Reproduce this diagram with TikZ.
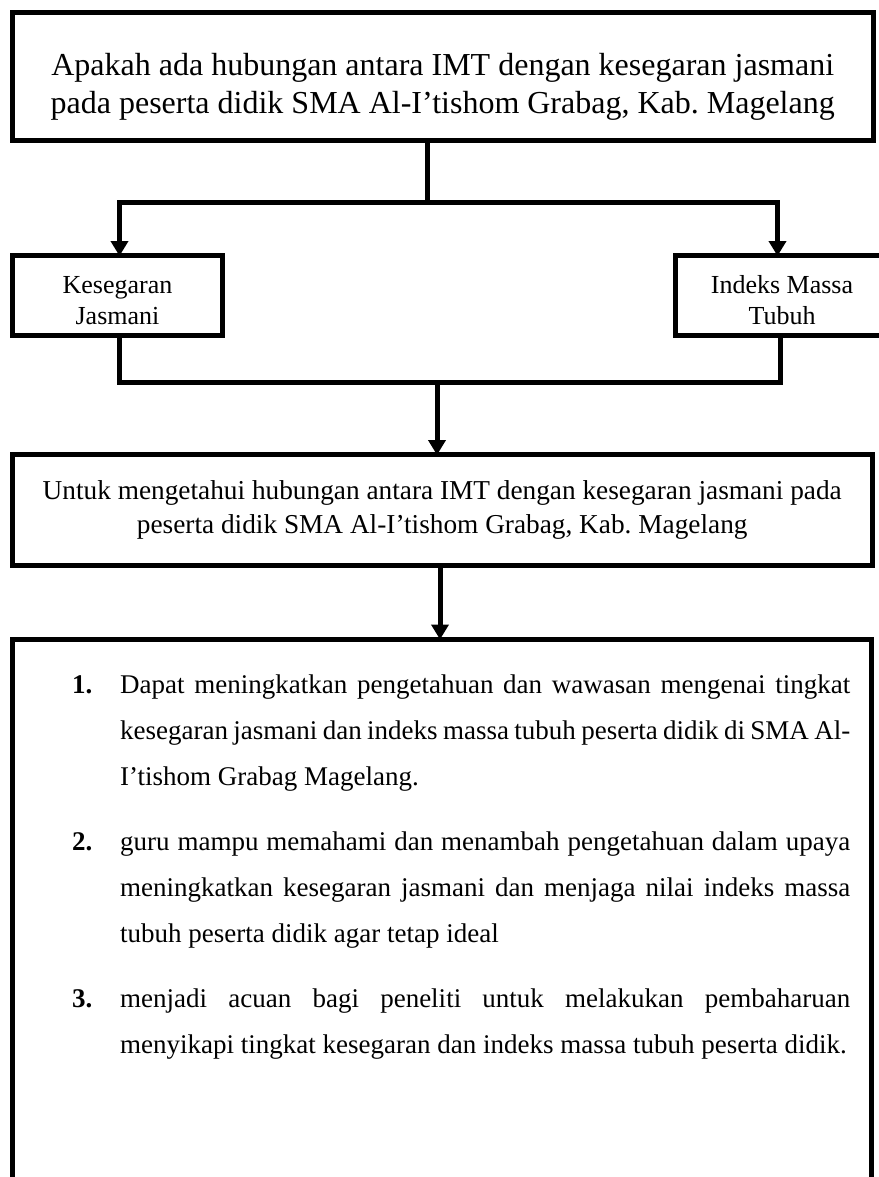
\documentclass[tikz,border=0pt]{standalone}
\usepackage{fontspec}
\setmainfont{Liberation Serif}
\usepackage{tikz}
\usetikzlibrary{arrows.meta}
\pgfdeclarelayer{edgelayer}
\pgfdeclarelayer{nodelayer}
\pgfsetlayers{edgelayer,nodelayer,main}
\frenchspacing
\tikzstyle{none} = [inner sep=0pt, minimum size=0pt]
\tikzstyle{box} = [draw, line width=5pt, rectangle, inner sep=0pt, align=center]
\tikzstyle{flow} = [line width=5pt, line join=miter]
\tikzstyle{flow arrow} = [flow, -{Triangle[length=15pt, width=17pt]}]
\tikzstyle{flow arrows} = [flow, {Triangle[length=15pt, width=17pt]}-{Triangle[length=15pt, width=17pt]}]

\begin{document}
\begin{tikzpicture}[x=1pt, y=-1pt]
	\useasboundingbox (0, 0) rectangle (878, 1177);
	\begin{pgfonlayer}{nodelayer}
		\node [style=box, minimum width=860.5pt, minimum height=128pt, font=\fontsize{32}{38}\selectfont] (0) at (442.75, 76.5) {\rule{0pt}{43pt}Apakah ada hubungan antara IMT dengan kesegaran jasmani\\pada peserta didik SMA Al-I’tishom Grabag, Kab. Magelang};
		\node [style=box, minimum width=210pt, minimum height=80pt, font=\fontsize{26}{31}\selectfont] (1) at (117.5, 295.5) {\rule{0pt}{27pt}Kesegaran\\Jasmani};
		\node [style=box, minimum width=213pt, minimum height=80pt, font=\fontsize{26}{31}\selectfont] (2) at (782, 295.5) {\rule{0pt}{27pt}Indeks Massa\\Tubuh};
		\node [style=box, minimum width=859.5pt, minimum height=111pt, font=\fontsize{27.3}{34}\selectfont] (3) at (442.25, 510) {Untuk mengetahui hubungan antara IMT dengan kesegaran jasmani pada\\peserta didik SMA Al-I’tishom Grabag, Kab. Magelang};
		\node [style=box, minimum width=858.5pt, minimum height=610.5pt] (4) at (441.75, 944.75) {};
		\node [style=none, anchor=base west, text width=778pt, align=justify, font=\fontsize{27}{46}\selectfont] (5) at (72, 693) {\setlength{\parskip}{19pt}%
\hangindent=48pt\hangafter=1\makebox[48pt][l]{\textbf{1.}}Dapat meningkatkan pengetahuan dan wawasan mengenai tingkat\linebreak kesegaran jasmani dan indeks massa tubuh peserta didik di SMA Al-\linebreak I’tishom Grabag Magelang.\par
\hangindent=48pt\hangafter=1\makebox[48pt][l]{\textbf{2.}}guru mampu memahami dan menambah pengetahuan dalam upaya\linebreak meningkatkan kesegaran jasmani dan menjaga nilai indeks massa\linebreak tubuh peserta didik agar tetap ideal\par
\hangindent=48pt\hangafter=1\makebox[48pt][l]{\textbf{3.}}menjadi acuan bagi peneliti untuk melakukan pembaharuan\linebreak menyikapi tingkat kesegaran dan indeks massa tubuh peserta didik.\par};
		\node [style=none] (10) at (427, 140.5) {};
		\node [style=none] (11) at (427, 202) {};
		\node [style=none] (12) at (119.5, 202) {};
		\node [style=none] (13) at (777.5, 202) {};
		\node [style=none] (14) at (119.5, 256) {};
		\node [style=none] (15) at (777.5, 256) {};
		\node [style=none] (16) at (119.5, 335.5) {};
		\node [style=none] (17) at (119.5, 382) {};
		\node [style=none] (18) at (780, 382) {};
		\node [style=none] (19) at (780, 335.5) {};
		\node [style=none] (20) at (437, 382) {};
		\node [style=none] (21) at (437, 455) {};
		\node [style=none] (22) at (440, 565.5) {};
		\node [style=none] (23) at (440, 639.5) {};
	\end{pgfonlayer}
	\begin{pgfonlayer}{edgelayer}
		\draw [style=flow] (10.center) to (11.center);
		\draw [style=flow arrows] (14.center) to (12.center) to (13.center) to (15.center);
		\draw [style=flow] (16.center) to (17.center) to (18.center) to (19.center);
		\draw [style=flow arrow] (20.center) to (21.center);
		\draw [style=flow arrow] (22.center) to (23.center);
	\end{pgfonlayer}
\end{tikzpicture}
\end{document}
